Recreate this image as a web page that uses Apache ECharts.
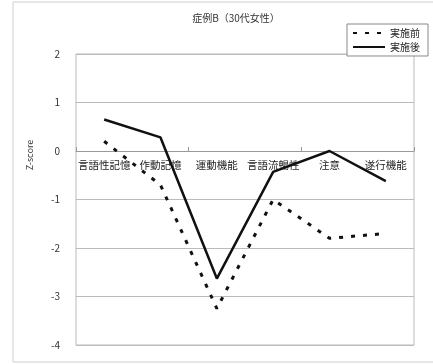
<!DOCTYPE html>
<html>
<head>
<meta charset="utf-8">
<script src="https://cdn.jsdelivr.net/npm/echarts@6/dist/echarts.min.js"></script>
<style>
  html, body { margin: 0; padding: 0; background: #fff; }
  #chart { width: 433px; height: 364px; }
</style>
</head>
<body>
<div id="chart"></div>
<script>
// Cognitive domain scores (Z-score), before and after the program
const categories = ['言語性記憶', '作動記憶', '運動機能', '言語流暢性', '注意', '遂行機能'];
const before = [0.2, -0.7, -3.25, -1.0, -1.8, -1.7];
const after = [0.65, 0.28, -2.63, -0.43, 0.0, -0.62];
const yTicks = [-4, -3, -2, -1, 0, 1, 2];

const FONT = '"Noto Sans CJK JP", "Noto Sans", sans-serif';
const W = 433, H = 364;
const GRID = { left: 76, right: 19, top: 54, bottom: 19 };
const yMin = yTicks[0], yMax = yTicks[yTicks.length - 1];
// distance from the bottom of the plot up to the zero line, so category names sit under it
const zeroLift = (H - GRID.top - GRID.bottom) * (0 - yMin) / (yMax - yMin);

const chart = echarts.init(document.getElementById('chart'), null, { renderer: 'canvas' });

chart.setOption({
  animation: false,
  backgroundColor: '#fff',
  title: {
    text: '症例B（30代女性）',
    left: 231,
    textAlign: 'center',
    top: 8,
    textStyle: { fontFamily: FONT, fontSize: 10, fontWeight: 'normal', color: '#333' }
  },
  legend: {
    orient: 'vertical',
    left: 347,
    top: 24,
    padding: [4, 8, 4, 5],
    itemGap: 4,
    itemWidth: 32,
    itemHeight: 10,
    itemStyle: { opacity: 0 },
    borderColor: '#888',
    borderWidth: 1,
    backgroundColor: '#fff',
    textStyle: { fontFamily: FONT, fontSize: 10, color: '#222' },
    data: ['実施前', '実施後']
  },
  graphic: [
    {
      type: 'rect',
      shape: { x: 13, y: 2, width: 430, height: 360 },
      style: { fill: 'none', stroke: '#d0d0d0', lineWidth: 1 },
      z: 0
    },
    {
      type: 'text',
      x: 30,
      y: 155,
      rotation: Math.PI / 2,
      style: {
        text: 'Z-score',
        font: '9px ' + FONT,
        fill: '#333',
        align: 'center',
        verticalAlign: 'middle'
      }
    }
  ],
  grid: Object.assign({ show: true, borderColor: '#bbb', borderWidth: 1 }, GRID),
  xAxis: [
    {
      type: 'category',
      data: categories,
      boundaryGap: true,
      axisLine: { onZero: true, onZeroAxisIndex: 0, lineStyle: { color: '#999', width: 1 } },
      axisTick: { show: true, inside: true, length: 4, lineStyle: { color: '#999' } },
      axisLabel: { show: false },
      splitLine: { show: false }
    },
    {
      // label-only axis placed along the zero line
      type: 'category',
      data: categories,
      position: 'bottom',
      offset: -zeroLift,
      axisLine: { show: false, onZero: false },
      axisTick: { show: false },
      axisLabel: {
        interval: 0,
        margin: 9,
        fontFamily: FONT,
        fontSize: 10.5,
        color: '#222'
      },
      splitLine: { show: false }
    }
  ],
  yAxis: {
    type: 'value',
    min: yMin,
    max: yMax,
    interval: 1,
    axisLine: { show: false, onZero: false },
    axisTick: { show: false },
    axisLabel: {
      margin: 16,
      fontFamily: FONT,
      fontSize: 10,
      color: '#333'
    },
    splitLine: { show: true, lineStyle: { color: '#bbb', width: 1 } }
  },
  series: [
    {
      name: '実施前',
      type: 'line',
      data: before,
      symbol: 'none',
      lineStyle: { color: '#111', width: 3, type: [4, 8] },
      itemStyle: { color: '#111' },
      z: 3
    },
    {
      name: '実施後',
      type: 'line',
      data: after,
      symbol: 'none',
      lineStyle: { color: '#111', width: 2.5, type: 'solid' },
      itemStyle: { color: '#111' },
      z: 3
    }
  ]
});
</script>
</body>
</html>
